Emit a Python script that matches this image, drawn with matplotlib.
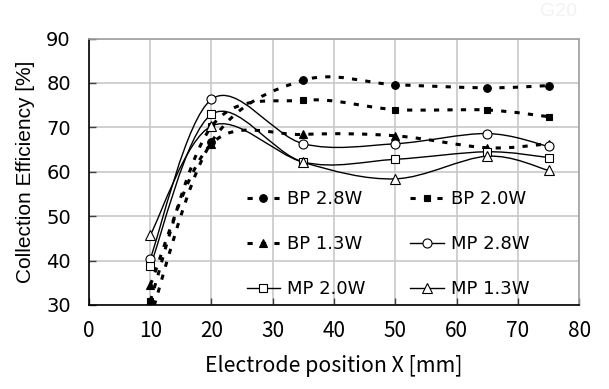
import matplotlib
matplotlib.use("Agg")
import matplotlib.pyplot as plt
from matplotlib.path import Path
from matplotlib.patches import PathPatch, Rectangle
from matplotlib.lines import Line2D

# electrode positions [mm]
positions = [10, 20, 35, 50, 65, 75]

# collection efficiency [%]
bp_28 = [27.0, 66.7, 80.6, 79.6, 78.9, 79.4]
bp_20 = [30.9, 70.2, 76.1, 74.0, 73.9, 72.4]
bp_13 = [34.5, 66.3, 68.4, 68.1, 65.4, 66.3]
mp_28 = [40.4, 76.3, 66.3, 66.3, 68.6, 65.7]
mp_20 = [38.7, 72.9, 62.2, 62.8, 64.5, 63.2]
mp_13 = [45.7, 70.3, 62.1, 58.4, 63.5, 60.3]

labels = ["BP 2.8W", "BP 2.0W", "BP 1.3W", "MP 2.8W", "MP 2.0W", "MP 1.3W"]
series = [bp_28, bp_20, bp_13, mp_28, mp_20, mp_13]
markers = ["o", "s", "^", "o", "s", "^"]
filled = [True, True, True, False, False, False]

x_ticks = [0, 10, 20, 30, 40, 50, 60, 70, 80]
y_ticks = [30, 40, 50, 60, 70, 80, 90]

dotted = (0, (1.7, 2.7))


def smooth_path(xs, ys):
    # Excel-style smoothed line: cubic Bezier through the points
    pts = list(zip(xs, ys))
    verts = [pts[0]]
    codes = [Path.MOVETO]
    n = len(pts)
    for i in range(n - 1):
        p0 = pts[i - 1] if i > 0 else pts[i]
        p1 = pts[i]
        p2 = pts[i + 1]
        p3 = pts[i + 2] if i + 2 < n else pts[i + 1]
        c1 = (p1[0] + (p2[0] - p0[0]) / 6, p1[1] + (p2[1] - p0[1]) / 6)
        c2 = (p2[0] - (p3[0] - p1[0]) / 6, p2[1] - (p3[1] - p1[1]) / 6)
        verts += [c1, c2, p2]
        codes += [Path.CURVE4] * 3
    return Path(verts, codes)


fig = plt.figure(figsize=(6.09, 3.89), dpi=100)
ax = fig.add_axes([0.146, 0.216, 0.805, 0.685])

ax.set_xlim(0, 80)
ax.set_ylim(30, 90)
ax.set_xticks(x_ticks)
ax.set_yticks(y_ticks)
ax.grid(True, color="#c8c8c8", linewidth=1.2, zorder=0)
ax.set_axisbelow(True)

# white area behind the legend hides the grid
ax.add_patch(Rectangle((0.273, 0.0), 0.664, 0.455, transform=ax.transAxes,
                       facecolor="white", edgecolor="none", zorder=0.5))

handles = []
for i in range(len(series)):
    ls = dotted if i < 3 else "-"
    lw = 2.2 if i < 3 else 1.0
    patch = PathPatch(smooth_path(positions, series[i]), facecolor="none",
                      edgecolor="black", linewidth=lw, linestyle=ls, zorder=2)
    ax.add_patch(patch)
    fc = "black" if filled[i] else "white"
    ms = 5.5 if filled[i] else 6.5
    if markers[i] == "s":
        ms -= 0.5
    ax.plot(positions, series[i], linestyle="none", marker=markers[i], markersize=ms,
            markerfacecolor=fc, markeredgecolor="black", markeredgewidth=0.8, zorder=3)
    handles.append(Line2D([], [], color="black", linestyle=ls, linewidth=lw,
                          marker=markers[i], markersize=ms, markerfacecolor=fc,
                          markeredgecolor="black", markeredgewidth=0.8))

# legend fills column by column, reference reads row by row
order = [0, 2, 4, 1, 3, 5]
leg = ax.legend([handles[k] for k in order], [labels[k] for k in order], ncol=2,
                loc="center", bbox_to_anchor=(0.610, 0.228),
                frameon=False, numpoints=1, prop={"family": "DejaVu Sans", "size": 13},
                handlelength=1.83, handletextpad=0.39, columnspacing=2.5, labelspacing=1.5)
leg.set_zorder(4)

for s in ["left", "bottom"]:
    ax.spines[s].set_color("black")
    ax.spines[s].set_linewidth(1.2)
for s in ["top", "right"]:
    ax.spines[s].set_color("#a0a0a0")
    ax.spines[s].set_linewidth(1.2)

ax.tick_params(direction="in", length=5, width=1, color="#404040")
ax.tick_params(axis="x", pad=11)
ax.tick_params(axis="y", pad=13)
for t in ax.get_yticklabels():
    t.set_fontfamily("DejaVu Sans")
    t.set_fontsize(14)
for t in ax.get_xticklabels():
    t.set_fontfamily("Noto Sans CJK JP")
    t.set_fontsize(15)

ax.set_ylabel("Collection Efficiency [%]", fontfamily="Liberation Sans", fontsize=15, labelpad=8)
ax.set_xlabel("Electrode position X [mm]", fontfamily="Noto Sans CJK JP", fontsize=15.3, labelpad=9)

# faint watermark in the corner
fig.text(0.917, 0.97, "G20", color="#f2f2f2", fontsize=14, ha="center", va="center",
         fontfamily="Liberation Sans")

fig.savefig("out.png", dpi=100)
